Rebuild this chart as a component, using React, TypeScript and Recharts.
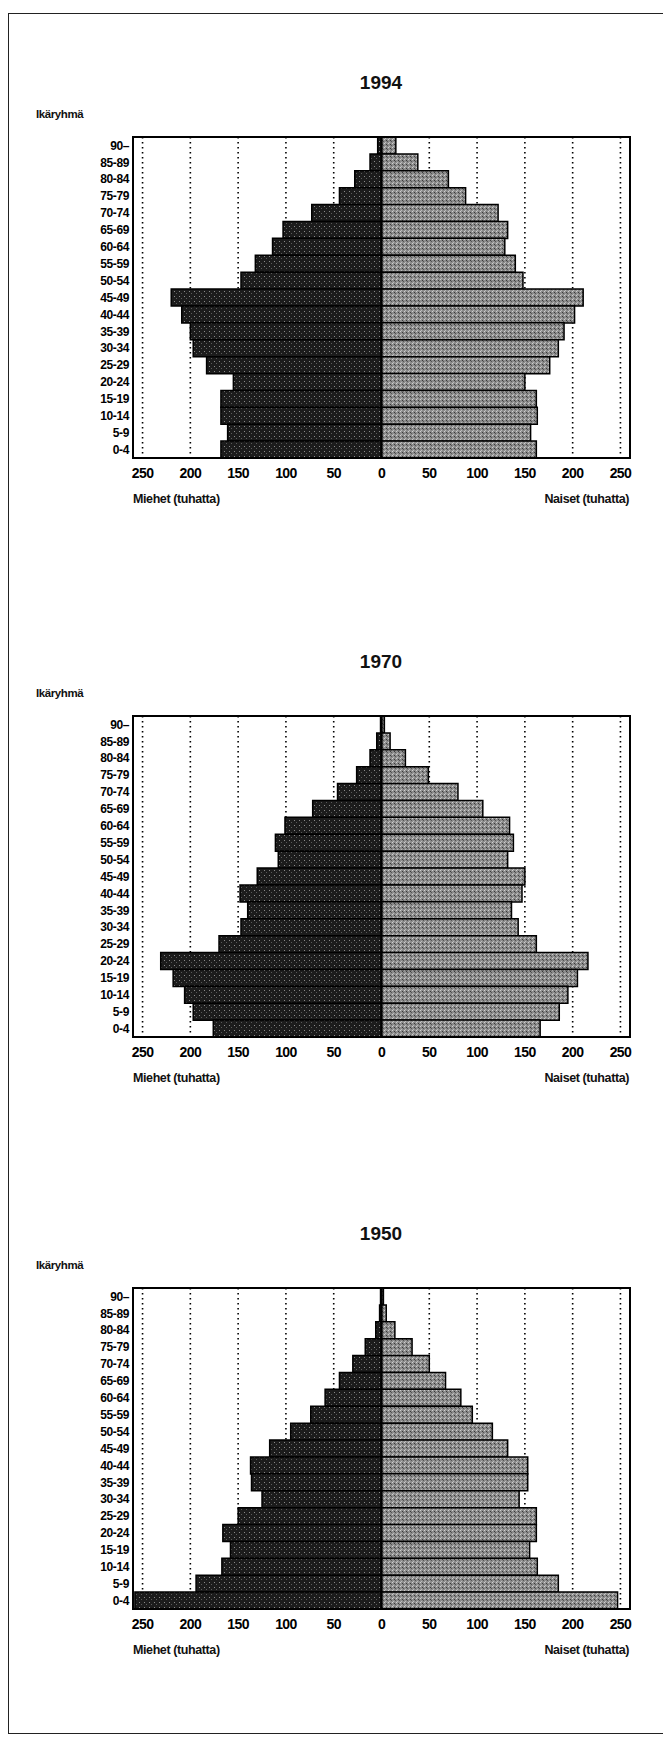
import React from "react";
import {
  BarChart,
  Bar,
  XAxis,
  YAxis,
  CartesianGrid,
  ReferenceLine,
} from "recharts";

const ageGroups = [
  "90–", "85-89", "80-84", "75-79", "70-74", "65-69", "60-64", "55-59", "50-54",
  "45-49", "40-44", "35-39", "30-34", "25-29", "20-24", "15-19", "10-14", "5-9", "0-4",
];

const years = ["1994", "1970", "1950"];

const male1994 = [4, 12, 28, 44, 73, 103, 114, 132, 147, 220, 209, 200, 197, 183, 155, 168, 168, 161, 168];
const female1994 = [15, 38, 70, 88, 122, 132, 129, 140, 148, 211, 202, 191, 185, 176, 150, 162, 163, 156, 162];

const male1970 = [1, 5, 12, 26, 46, 72, 101, 111, 108, 130, 148, 140, 147, 170, 231, 218, 206, 197, 176];
const female1970 = [3, 9, 25, 49, 80, 106, 134, 138, 132, 150, 147, 136, 143, 162, 216, 205, 195, 186, 166];

const male1950 = [1, 2, 6, 17, 30, 44, 59, 74, 95, 117, 137, 136, 125, 150, 166, 158, 167, 194, 258];
const female1950 = [2, 5, 14, 32, 50, 67, 83, 95, 116, 132, 153, 153, 144, 162, 162, 155, 163, 185, 247];

const xTicks = [-250, -200, -150, -100, -50, 0, 50, 100, 150, 200, 250];
const gridValues = [-250, -200, -150, -100, -50, 50, 100, 150, 200, 250];

const yAxisTitle = "Ikäryhmä";
const maleLabel = "Miehet (tuhatta)";
const femaleLabel = "Naiset (tuhatta)";

const maleSeries = [male1994, male1970, male1950];
const femaleSeries = [female1994, female1970, female1950];

// page-space plot tops of the three pyramids
const plotTops = [137, 716, 1288];
const PLOT_H = 321;
const PLOT_LEFT = 125; // local
const PLOT_W = 497;

const sans = "'Liberation Sans', Arial, Helvetica, sans-serif";
const narrow = "'Liberation Sans Narrow', 'Arial Narrow', 'Liberation Sans', Arial, sans-serif";

function Pyramid({ idx }: { idx: number }) {
  const data = ageGroups.map((age, i) => ({
    age,
    male: -maleSeries[idx][i],
    female: femaleSeries[idx][i],
  }));
  const pt = plotTops[idx] - 8;
  const marginTop = 2;
  const mId = `maleTex${idx}`;
  const fId = `femaleTex${idx}`;
  return (
    <>
      <div
        style={{
          position: "absolute",
          left: 273,
          top: pt - 54 - 10,
          width: 200,
          textAlign: "center",
          fontFamily: narrow,
          fontWeight: 700,
          fontSize: 19,
          lineHeight: "20px",
          color: "#111",
        }}
      >
        {years[idx]}
      </div>
      <div
        style={{
          position: "absolute",
          left: 28,
          top: pt - 23 - 7,
          fontFamily: sans,
          fontWeight: 700,
          fontSize: 11.5,
          lineHeight: "14px",
          letterSpacing: -0.4,
          color: "#111",
        }}
      >
        {yAxisTitle}
      </div>
      <div style={{ position: "absolute", left: 0, top: pt - marginTop }}>
        <BarChart
          width={640}
          height={marginTop + PLOT_H + 30}
          data={data}
          layout="vertical"
          stackOffset="sign"
          barCategoryGap={0}
          margin={{ top: marginTop, right: 18, left: 0, bottom: 0 }}
        >
          <defs>
            <pattern id={mId} width="5" height="5" patternUnits="userSpaceOnUse">
              <rect width="5" height="5" fill="#1c1c1c" />
              <rect x="1" y="1" width="1" height="1" fill="#8a8a8a" />
              <rect x="3" y="3" width="1" height="1" fill="#5a5a5a" />
            </pattern>
            <pattern id={fId} width="4" height="4" patternUnits="userSpaceOnUse">
              <rect width="4" height="4" fill="#8c8c8c" />
              <rect x="0" y="0" width="1" height="1" fill="#d0d0d0" />
              <rect x="2" y="1" width="1" height="1" fill="#3a3a3a" />
              <rect x="1" y="3" width="1" height="1" fill="#bcbcbc" />
              <rect x="3" y="2" width="1" height="1" fill="#555" />
            </pattern>
          </defs>
          <CartesianGrid
            horizontal={false}
            verticalValues={gridValues}
            stroke="#000"
            strokeWidth={1.6}
            strokeDasharray="1.5 3.5"
          />
          <XAxis
            type="number"
            domain={[-260, 260]}
            ticks={xTicks}
            interval={0}
            allowDataOverflow
            tickFormatter={(v: number) => String(Math.abs(v))}
            axisLine={false}
            tickLine={false}
            tickSize={0}
            tickMargin={10}
            height={30}
            tick={{ fill: "#000", fontSize: 14, fontWeight: 700, fontFamily: sans, letterSpacing: -0.6 }}
          />
          <YAxis
            type="category"
            dataKey="age"
            width={125}
            interval={0}
            axisLine={false}
            tickLine={false}
            tickSize={0}
            tickMargin={4}
            tick={{ fill: "#000", fontSize: 12, fontWeight: 700, fontFamily: sans, letterSpacing: -0.4 }}
          />
          <Bar dataKey="male" stackId="a" fill={`url(#${mId})`} stroke="#000" strokeWidth={1.5} isAnimationActive={false} />
          <Bar dataKey="female" stackId="a" fill={`url(#${fId})`} stroke="#000" strokeWidth={1.5} isAnimationActive={false} />
          <ReferenceLine x={0} stroke="#000" strokeWidth={2} ifOverflow="visible" />
        </BarChart>
      </div>
      <div
        style={{
          position: "absolute",
          left: PLOT_LEFT - 1,
          top: pt - 1,
          width: PLOT_W + 2,
          height: PLOT_H + 2,
          border: "2px solid #000",
          boxSizing: "border-box",
          pointerEvents: "none",
        }}
      />
      <div
        style={{
          position: "absolute",
          left: 125,
          top: pt + PLOT_H + 41 - 8,
          fontFamily: sans,
          fontWeight: 700,
          fontSize: 12.5,
          lineHeight: "16px",
          letterSpacing: -0.4,
          color: "#111",
        }}
      >
        {maleLabel}
      </div>
      <div
        style={{
          position: "absolute",
          left: 421,
          width: 200,
          textAlign: "right",
          top: pt + PLOT_H + 41 - 8,
          fontFamily: sans,
          fontWeight: 700,
          fontSize: 12.5,
          lineHeight: "16px",
          letterSpacing: -0.4,
          color: "#111",
        }}
      >
        {femaleLabel}
      </div>
    </>
  );
}

export default function App() {
  return (
    <div style={{ position: "relative", width: 662, height: 1727, background: "#fff" }}>
      <div
        style={{
          position: "absolute",
          left: 0,
          top: 5,
          width: 659,
          height: 1721,
          border: "1.5px solid #222",
          boxSizing: "border-box",
        }}
      />
      {years.map((_, i) => (
        <Pyramid key={i} idx={i} />
      ))}
    </div>
  );
}
